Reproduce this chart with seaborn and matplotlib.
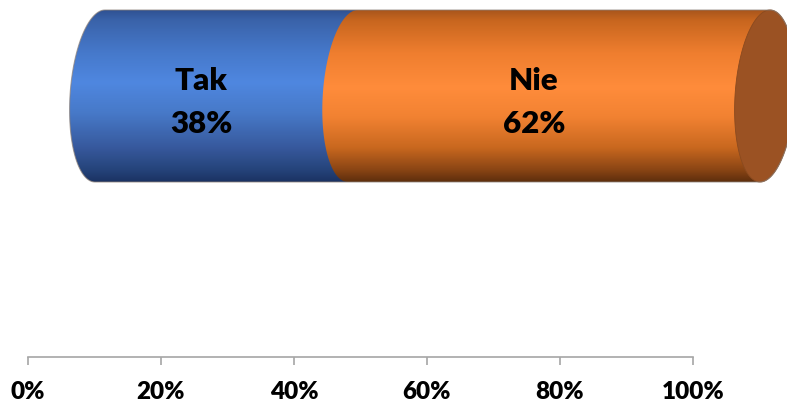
import numpy as np
import matplotlib
matplotlib.use("Agg")
import matplotlib.pyplot as plt
from matplotlib.path import Path
from matplotlib.patches import PathPatch
from matplotlib.colors import LinearSegmentedColormap
import seaborn as sns
import pandas as pd

# ---- data ----
categories = ["Tak", "Nie"]
shares = [38, 62]
tick_values = [0, 20, 40, 60, 80, 100]
tick_labels = ["0%", "20%", "40%", "60%", "80%", "100%"]

# ---- style ----
body_stops = {
    "Tak": [(0.00, "#2F5293"), (0.06, "#3A63AA"), (0.25, "#4679CB"), (0.42, "#4F87E0"),
            (0.60, "#4779C8"), (0.80, "#37599D"), (0.93, "#25437A"), (1.00, "#1B3262")],
    "Nie": [(0.00, "#A9561C"), (0.06, "#C8661F"), (0.25, "#EF7E2F"), (0.45, "#FF8C3B"),
            (0.62, "#F28232"), (0.80, "#C9681F"), (0.93, "#8A4514"), (1.00, "#5E2E0D")],
}
flat_colors = {"Tak": "#4A7DD0", "Nie": "#F07F30"}
end_cap_color = "#9B5223"
axis_grey = "#A6A6A6"

W, H, DPI = 787, 403, 100
DEPTH_DX = 72      # horizontal 3-D depth offset of the cylinder, px
CAP_RX = 30        # half-width of the elliptical end caps, px
CAP_SHEAR = 5      # perspective lean of the caps, px
LABEL_DX = 47      # label shift relative to the axis position, px

sns.set_theme(style="white")
plt.rcParams["font.family"] = ["Lato", "DejaVu Sans"]

fig = plt.figure(figsize=(W / DPI, H / DPI), dpi=DPI)
ax = fig.add_axes([28 / W, 46 / H, 665 / W, 357 / H])

df = pd.DataFrame({"answer": categories, "share": shares})
df["end"] = df["share"].cumsum()
df["start"] = df["end"] - df["share"]
df["row"] = "all"

# stacked horizontal bars: cumulative totals, longest first
for i in range(len(df) - 1, -1, -1):
    sns.barplot(data=df.iloc[[i]], x="end", y="row", orient="h", width=0.8,
                color=flat_colors[df.loc[i, "answer"]], ax=ax)

ax.set_xlim(0, 100)
ax.set_ylim(1.214, -0.4465)
ax.set_xlabel("")
ax.set_ylabel("")
ax.set_yticks([])
ax.set_xticks(tick_values)
ax.set_xticklabels(tick_labels, fontsize=17.5, fontweight="heavy", color="black")
for s in ["top", "left", "right"]:
    ax.spines[s].set_visible(False)
ax.spines["bottom"].set_color(axis_grey)
ax.spines["bottom"].set_linewidth(1.2)
ax.tick_params(axis="x", bottom=True, direction="out", length=6, width=1.2,
               color=axis_grey, pad=11)

# bar geometry from the seaborn bars (in data coords), then hide the flat bars
bars = list(ax.patches)
y0 = min(p.get_y() for p in bars)
y1 = max(p.get_y() + p.get_height() for p in bars)
for p in bars:
    p.set_visible(False)

to_px = ax.transData.transform
yt = to_px((0, y0))[1]
yb = to_px((0, y1))[1]
cy = (yt + yb) / 2
ry = (yt - yb) / 2

# overlay in pixel units for the cylinder shading
ov = fig.add_axes([0, 0, 1, 1])
ov.set_xlim(0, W)
ov.set_ylim(0, H)
ov.axis("off")
ov.patch.set_alpha(0)


def arc(cx, t0, t1, n=90):
    t = np.linspace(t0, t1, n)
    return np.column_stack([cx + CAP_RX * np.cos(t) + CAP_SHEAR * np.sin(t),
                            cy + ry * np.sin(t)])


def body(xs, xe):
    left = arc(xs, np.pi / 2, 3 * np.pi / 2)
    right = arc(xe, -np.pi / 2, np.pi / 2)
    verts = np.vstack([left, right, left[:1]])
    return Path(verts, closed=True)


for _, r in df.iterrows():
    xs = to_px((r["start"], 0))[0] + DEPTH_DX
    xe = to_px((r["end"], 0))[0] + DEPTH_DX
    patch = PathPatch(body(xs, xe), facecolor="none", edgecolor="none")
    ov.add_patch(patch)
    cmap = LinearSegmentedColormap.from_list("g" + r["answer"], body_stops[r["answer"]])
    grad = cmap(np.linspace(0, 1, 256))[:, None, :]
    im = ov.imshow(grad, extent=(0, W, yb, yt), origin="upper", aspect="auto",
                   interpolation="bilinear")
    im.set_clip_path(patch)

# right end cap
x_last = to_px((df["end"].iloc[-1], 0))[0] + DEPTH_DX
cap = arc(x_last, 0, 2 * np.pi, 180)
ov.add_patch(PathPatch(Path(cap, closed=True), facecolor=end_cap_color,
                       edgecolor="#8A4A1F", lw=0.6))

# thin outline of the whole cylinder
x_first = to_px((df["start"].iloc[0], 0))[0] + DEPTH_DX
ov.add_patch(PathPatch(body(x_first, x_last), facecolor="none",
                       edgecolor=(0.55, 0.50, 0.47, 0.7), lw=0.8))

ov.set_xlim(0, W)
ov.set_ylim(0, H)

# segment labels
for _, r in df.iterrows():
    xm = to_px(((r["start"] + r["end"]) / 2, 0))[0] + LABEL_DX
    ov.text(xm, cy + 6, r["answer"], ha="center", va="baseline",
            fontsize=22.5, fontweight="heavy", color="black")
    ov.text(xm, cy - 37, f"{r['share']}%", ha="center", va="baseline",
            fontsize=22.5, fontweight="heavy", color="black")

fig.savefig("out.png", dpi=DPI)
